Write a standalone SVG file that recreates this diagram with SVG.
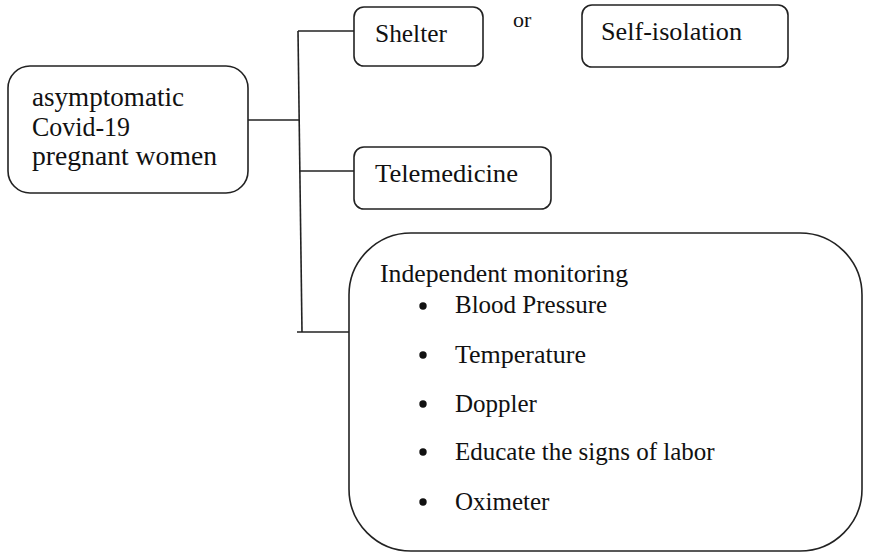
<svg xmlns="http://www.w3.org/2000/svg" width="873" height="554" viewBox="0 0 873 554">
<style>
.box{fill:#fff;stroke:#222;stroke-width:1.6}
.ln{fill:none;stroke:#222;stroke-width:1.6}
text{font-family:"Liberation Serif","Times New Roman",serif;font-size:25px;fill:#111}
.big{font-size:26.5px}
.sm{font-size:22px}
.dot{fill:#111}
</style>
<rect width="873" height="554" fill="#fff"/>
<g id="connectors">
<path class="ln" d="M298 31 L302 332"/>
<path class="ln" d="M298 31 H354"/>
<path class="ln" d="M248 120 H299"/>
<path class="ln" d="M299 171 H354"/>
<path class="ln" d="M297 332 H349"/>
</g>
<g id="main">
<rect class="box" x="8" y="66" width="240" height="127" rx="22"/>
<text class="big" x="32" y="106" textLength="152" lengthAdjust="spacingAndGlyphs">asymptomatic</text>
<text class="big" x="32" y="136" textLength="98" lengthAdjust="spacingAndGlyphs">Covid-19</text>
<text class="big" x="32" y="165" textLength="185" lengthAdjust="spacingAndGlyphs">pregnant women</text>
</g>
<g id="shelter">
<rect class="box" x="354" y="7" width="129" height="59" rx="10"/>
<text x="375" y="42" textLength="72" lengthAdjust="spacingAndGlyphs">Shelter</text>
</g>
<g id="or">
<text class="sm" x="513" y="27">or</text>
</g>
<g id="selfisolation">
<rect class="box" x="582" y="5" width="206" height="62" rx="10"/>
<text x="601" y="40" textLength="141" lengthAdjust="spacingAndGlyphs">Self-isolation</text>
</g>
<g id="telemedicine">
<rect class="box" x="354" y="147" width="197" height="62" rx="10"/>
<text x="375" y="182" textLength="143" lengthAdjust="spacingAndGlyphs">Telemedicine</text>
</g>
<g id="monitoring">
<rect class="box" x="349" y="233" width="513" height="318" rx="62"/>
<text x="380" y="282" textLength="248" lengthAdjust="spacingAndGlyphs">Independent monitoring</text>
<circle class="dot" cx="423" cy="306" r="3.7"/>
<text x="455" y="313">Blood Pressure</text>
<circle class="dot" cx="423" cy="355" r="3.7"/>
<text x="455" y="363" textLength="131" lengthAdjust="spacingAndGlyphs">Temperature</text>
<circle class="dot" cx="423" cy="404" r="3.7"/>
<text x="455" y="412">Doppler</text>
<circle class="dot" cx="423" cy="452" r="3.7"/>
<text x="455" y="460">Educate the signs of labor</text>
<circle class="dot" cx="423" cy="502" r="3.7"/>
<text x="455" y="510">Oximeter</text>
</g>
</svg>
